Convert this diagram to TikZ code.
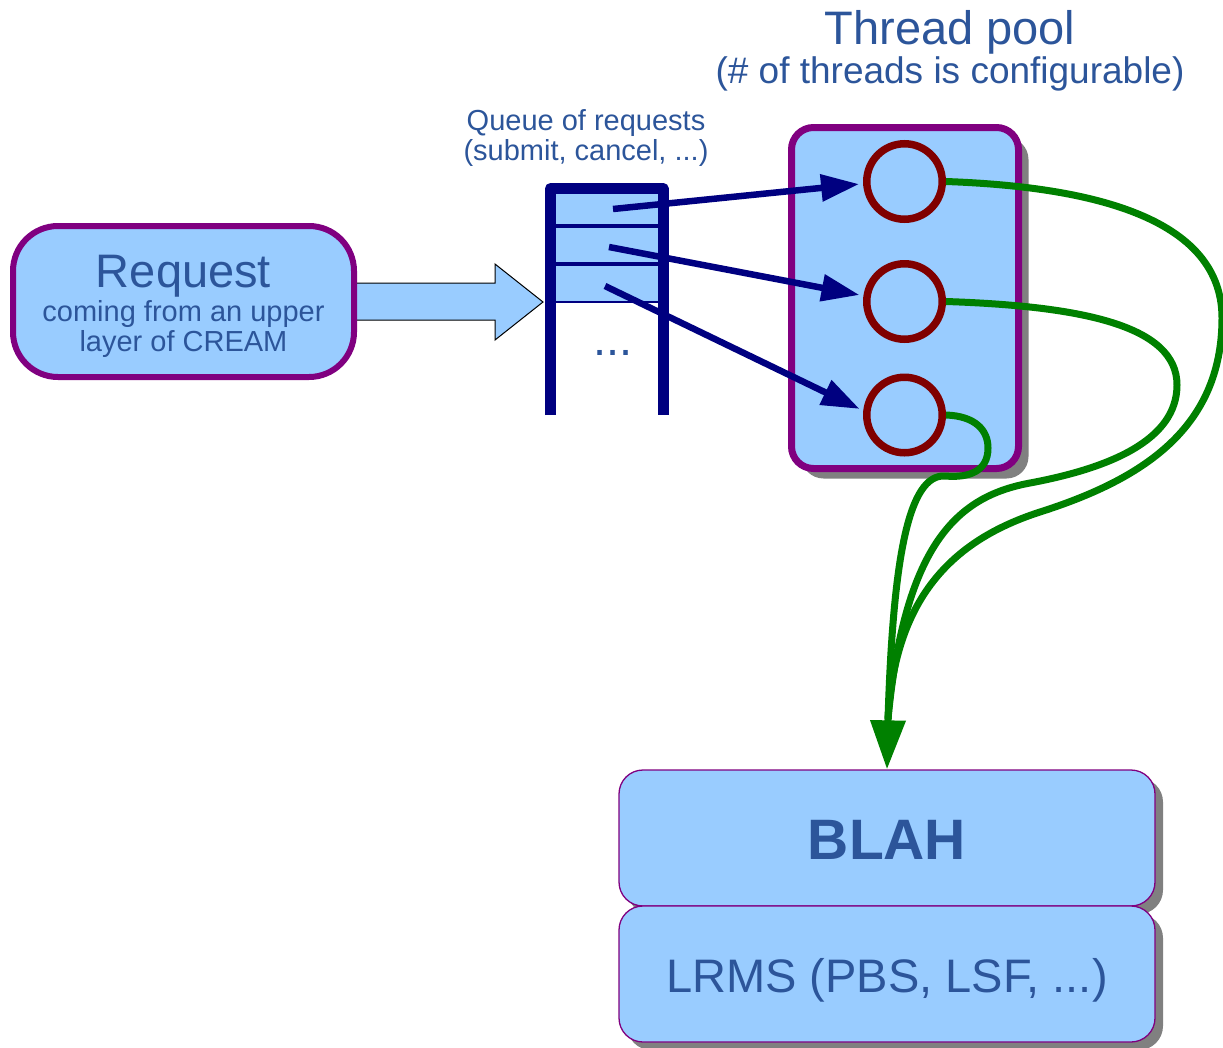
\documentclass[tikz,border=0pt]{standalone}
\usepackage{fontspec}
\setmainfont{Liberation Sans}
\usetikzlibrary{arrows.meta,shadows}

\definecolor{boxblue}{HTML}{99CCFF}
\definecolor{framepurple}{HTML}{800080}
\definecolor{queuenavy}{HTML}{000080}
\definecolor{threadred}{HTML}{800000}
\definecolor{flowgreen}{HTML}{008000}
\definecolor{labelblue}{HTML}{2C559A}
\definecolor{shadowgray}{HTML}{808080}

\newcommand\txtsize[1]{\fontsize{#1}{#1}\selectfont}

\begin{document}
\begin{tikzpicture}[x=1pt,y=-1pt,
  txt/.style={text=labelblue, anchor=base, inner sep=0pt, outer sep=0pt},
  reqbox/.style={draw=framepurple, line width=6pt, fill=boxblue, rounded corners=45pt,
    minimum width=341pt, minimum height=151pt, inner sep=0pt},
  poolbox/.style={draw=framepurple, line width=7pt, fill=boxblue, rounded corners=22pt,
    minimum width=227pt, minimum height=341pt, inner sep=0pt,
    general shadow={fill=shadowgray, shadow xshift=10pt, shadow yshift=-10pt}},
  layerbox/.style={draw=framepurple, line width=1.3pt, fill=boxblue, rounded corners=24pt,
    minimum width=536pt, minimum height=136pt, inner sep=0pt,
    general shadow={fill=shadowgray, shadow xshift=8pt, shadow yshift=-8pt}},
  thread/.style={circle, draw=threadred, line width=7.5pt, minimum size=75.5pt, inner sep=0pt},
  dispatch/.style={draw=queuenavy, line width=6.5pt, -{Triangle[length=38pt,width=26pt]}, shorten >=4pt},
  flow/.style={draw=flowgreen, line width=7pt},
  blockarrow/.style={draw=black, line width=1pt, fill=boxblue, line join=miter}
]
\useasboundingbox (0,0) rectangle (1223,1047);

% titles
\node[txt] (pooltitle) at (950,44) {\txtsize{47}Thread pool};
\node[txt] (poolnote) at (950,83) {\txtsize{37}(\# of threads is configurable)};
\node[txt] (queuetitle) at (586,130) {\txtsize{29}Queue of requests};
\node[txt] (queuenote) at (586,160) {\txtsize{29}(submit, cancel, ...)};

% block arrow from the request into the queue
\draw[blockarrow] (350,283) -- (495,283) -- (495,264) -- (543,302) -- (495,340)
  -- (495,320) -- (350,320) -- cycle;

% incoming request
\node[reqbox] (req) at (183.5,301.5) {};
\node[txt] (reqtitle) at (183.5,287) {\txtsize{47}Request};
\node[txt] (reqline1) at (183.5,321) {\txtsize{29}coming from an upper};
\node[txt] (reqline2) at (183.5,351) {\txtsize{29}layer of CREAM};

% request queue
\fill[boxblue] (550.5,188.5) rectangle (663,302);
\draw[queuenavy, line width=1.5pt] (550.5,302) -- (663,302);
\draw[queuenavy, line width=4pt] (550.5,226) -- (663,226) (550.5,264) -- (663,264);
\draw[queuenavy, line width=11pt, line join=round] (550.5,415) -- (550.5,188.5) -- (663,188.5) -- (663,415);
\node[txt] (queuedots) at (613,355) {\txtsize{47}...};
\coordinate (q1) at (613,209);
\coordinate (q2) at (609,247);
\coordinate (q3) at (605,286);

% thread pool
\node[poolbox] (pool) at (905,298) {};
\node[thread] (t1) at (904.5,181.5) {};
\node[thread] (t2) at (904.5,301.5) {};
\node[thread] (t3) at (904.5,415) {};

% dispatching requests to threads
\draw[dispatch] (q1) -- (t1.183);
\draw[dispatch] (q2) -- (t2.172);
\draw[dispatch] (q3) -- (t3.174);

% lower layers
\node[layerbox] (blah) at (887,838) {};
\node[layerbox] (lrms) at (887,974) {};
\node[txt] (blahtext) at (887,859) {\txtsize{57}\bfseries BLAH};
\node[txt] (lrmstext) at (887,992) {\txtsize{47}LRMS (PBS, LSF, ...)};

% threads calling BLAH
\coordinate (merge) at (888,719);
\draw[flow] (t1.east) .. controls (1070,186) and (1222,210) .. (1222,318)
  .. controls (1222,430) and (1140,480) .. (1040,512)
  .. controls (950,541) and (895,600) .. (merge);
\draw[flow] (t2.east) .. controls (1080,306) and (1177,325) .. (1177,385)
  .. controls (1177,440) and (1110,468) .. (1030,483)
  .. controls (960,496) and (905,540) .. (merge);
\draw[flow] (t3.east) .. controls (975,416) and (988,430) .. (988,448)
  .. controls (988,472) and (968,478) .. (945,476)
  .. controls (908,474) and (893,560) .. (merge);
\draw[flow, -{Triangle[length=49pt,width=34pt]}] (merge) -- (blah.north);
\end{tikzpicture}
\end{document}
